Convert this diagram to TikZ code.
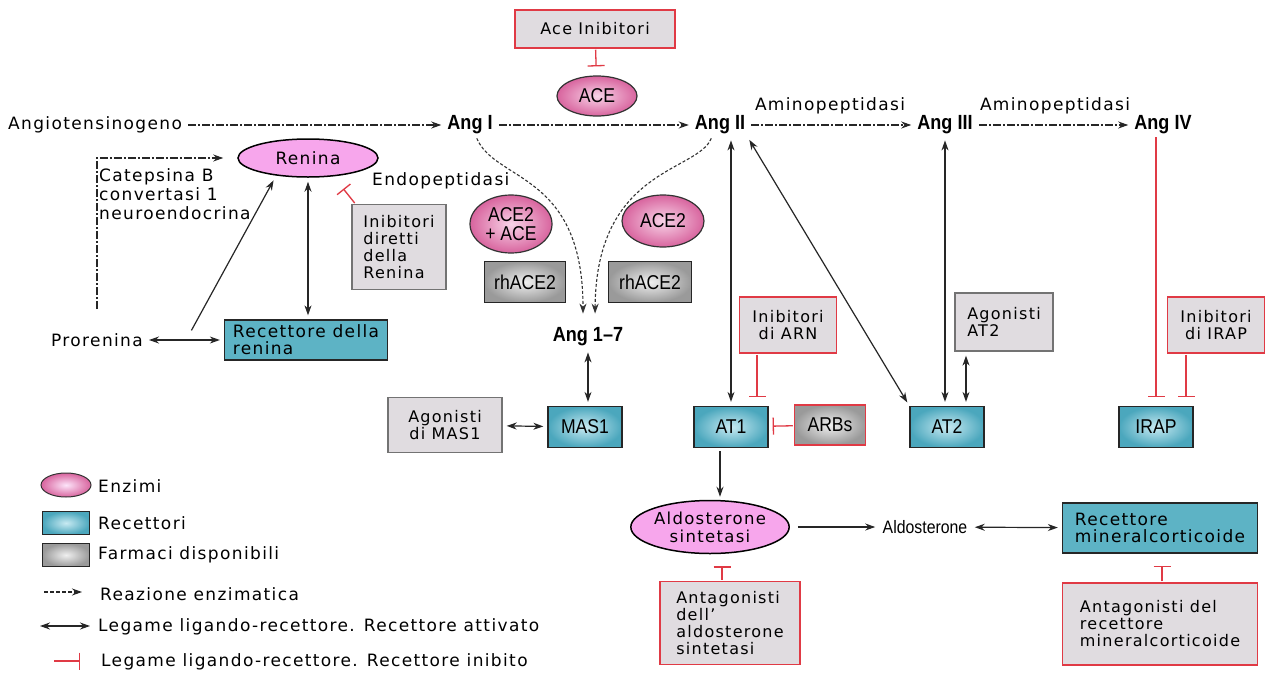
\documentclass[tikz,border=0pt]{standalone}
\usepackage{fontspec}
\setmainfont[LetterSpace=8]{DejaVu Sans}
\newfontfamily\narrowfont[FakeStretch=0.88]{Liberation Sans}
\usetikzlibrary{arrows.meta,shapes.geometric,positioning}
\definecolor{reninpink}{HTML}{F7A6EC}
\definecolor{acedark}{HTML}{D8649E}
\definecolor{acelight}{HTML}{F8D4E8}
\definecolor{recteal}{HTML}{5DB3C5}
\definecolor{recdark}{HTML}{4BA7BD}
\definecolor{reclight}{HTML}{C8EAF2}
\definecolor{druggray}{HTML}{9A9A9A}
\definecolor{boxgray}{HTML}{E0DCE0}
\definecolor{inhred}{HTML}{E03A45}
\tikzstyle{lbl}=[font=\fontsize{17}{19}\selectfont, inner sep=2pt]
\tikzstyle{ang}=[font=\narrowfont\bfseries\fontsize{20.5}{22}\selectfont, inner sep=2pt]
\tikzstyle{enzyme}=[ellipse, draw=black!80, line width=1.2pt, inner color=acelight, outer color=acedark, inner sep=0pt, align=center, font=\narrowfont\fontsize{20}{19}\selectfont]
\tikzstyle{enzflat}=[ellipse, draw=black, line width=1.5pt, fill=reninpink, inner sep=0pt, align=center, font=\fontsize{16.5}{18}\selectfont]
\tikzstyle{recbox}=[rectangle, draw=black!85, line width=1.3pt, inner color=reclight, outer color=recdark, minimum width=74pt, minimum height=41pt, font=\narrowfont\fontsize{20}{19}\selectfont]
\tikzstyle{recflat}=[rectangle, draw=black!85, line width=1.3pt, fill=recteal, align=left, inner sep=4pt, font=\fontsize{17}{17}\selectfont]
\tikzstyle{drugbox}=[rectangle, draw=black!85, line width=1.3pt, inner color=white!94!black, outer color=druggray, font=\narrowfont\fontsize{20}{19}\selectfont]
\tikzstyle{inhbox}=[rectangle, draw=inhred, line width=1.5pt, fill=boxgray, align=left, font=\fontsize{16}{17}\selectfont]
\tikzstyle{agobox}=[rectangle, draw=black!55, line width=1.3pt, fill=boxgray, align=left, font=\fontsize{16}{17}\selectfont]
\tikzstyle{conv}=[-{Stealth[length=10pt,width=7pt]}, line width=1.2pt, black!85, shorten <=3pt, shorten >=3pt]
\tikzstyle{bind}=[{Stealth[length=10pt,width=7pt]}-{Stealth[length=10pt,width=7pt]}, line width=1.2pt, black!85, shorten <=4pt, shorten >=4pt]
\tikzstyle{enzarrow}=[-{Stealth[length=10pt,width=7pt]}, line width=1.1pt, black!85, dash pattern=on 8pt off 2pt on 2pt off 2pt, shorten <=4pt, shorten >=4pt]
\tikzstyle{enzcurve}=[-{Stealth[length=10pt,width=7pt]}, line width=1.1pt, black!80, dash pattern=on 3pt off 2pt, shorten <=2pt, shorten >=12pt]
\tikzstyle{inhib}=[-{Bar[width=17pt]}, line width=1.3pt, inhred, shorten <=1pt, shorten >=9pt]

\begin{document}
\begin{tikzpicture}[x=1pt,y=-1pt]
\useasboundingbox[fill=white] (0,0) rectangle (1267,675);

\node[inhbox, minimum width=160pt, minimum height=38pt] (AceInh) at (595,29) {Ace Inibitori};
\node[enzyme, minimum width=80pt, minimum height=40pt] (ACE) at (597,96) {ACE};
\node[lbl, anchor=west] (Agen) at (6,125) {Angiotensinogeno};
\node[ang] (AngI) at (470,125) {Ang I};
\node[ang] (AngII) at (720,125) {Ang II};
\node[ang] (AngIII) at (945,125) {Ang III};
\node[ang] (AngIV) at (1163,125) {Ang IV};
\node[lbl] (Amino1) at (830,106) {Aminopeptidasi};
\node[lbl] (Amino2) at (1055,106) {Aminopeptidasi};

\node[enzflat, minimum width=140pt, minimum height=38pt, font=\fontsize{17}{18}\selectfont] (Renina) at (308,158) {Renina};
\node[lbl, anchor=west] (Endo) at (370,181) {Endopeptidasi};
\node[lbl, anchor=north west, align=left] (Catep) at (97,166) {Catepsina B\\convertasi 1\\neuroendocrina};
\node[lbl] (Pro) at (97,340) {Prorenina};
\coordinate (ProA) at (190,333);
\node[recflat, minimum width=163pt, minimum height=40pt] (RecRen) at (306,340) {Recettore della\\renina};
\node[agobox, minimum width=94pt, minimum height=85pt] (RenInh) at (399,247) {Inibitori\\diretti\\della\\Renina};

\node[enzyme, minimum width=82pt, minimum height=58pt] (ACEtwoA) at (511,224) {ACE2\\+ ACE};
\node[enzyme, minimum width=82pt, minimum height=52pt] (ACEtwoB) at (663,221) {ACE2};
\node[drugbox, minimum width=81pt, minimum height=41pt] (rhA) at (525,282) {rhACE2};
\node[drugbox, minimum width=83pt, minimum height=41pt] (rhB) at (650,282) {rhACE2};
\node[ang] (Ang17) at (588,337) {Ang 1–7};

\node[recbox] (MAS1) at (585,427) {MAS1};
\node[agobox, minimum width=114pt, minimum height=55pt, align=center] (MASago) at (445,425) {Agonisti\\di MAS1};
\node[recbox] (AT1) at (731,427) {AT1};
\node[inhbox, minimum width=97pt, minimum height=56pt, align=center] (ARNinh) at (788,325) {Inibitori\\di ARN};
\node[drugbox, draw=inhred, line width=1.5pt, minimum width=71pt, minimum height=40pt] (ARBs) at (830,425) {ARBs};
\node[recbox] (AT2) at (947,427) {AT2};
\node[agobox, minimum width=98pt, minimum height=58pt] (AT2ago) at (1004,322) {Agonisti\\AT2};
\node[inhbox, minimum width=97pt, minimum height=56pt, align=center] (IRAPinh) at (1216,325) {Inibitori\\di IRAP};
\node[recbox] (IRAP) at (1156,427) {IRAP};

\node[enzflat, minimum width=141pt, minimum height=53pt] (AldoS) at (710,527) {Aldosterone\\sintetasi};
\node[font=\narrowfont\fontsize{18}{17}\selectfont] (Aldo) at (925,527) {Aldosterone};
\node[recflat, minimum width=195pt, minimum height=50pt] (MR) at (1160,528) {Recettore\\mineralcorticoide};
\node[inhbox, minimum width=140pt, minimum height=83pt] (AldoInh) at (730,623) {Antagonisti\\dell'\\aldosterone\\sintetasi};
\node[inhbox, minimum width=195pt, minimum height=82pt] (MRinh) at (1160,624) {Antagonisti del\\recettore\\mineralcorticoide};

\node[enzyme, minimum width=50pt, minimum height=24pt, line width=1pt, inner color=reninpink!30, outer color=acedark] (LegEnz) at (66,485) {};
\node[lbl, anchor=west] (LegEnzT) at (96,486) {Enzimi};
\node[recbox, minimum width=47pt, minimum height=23pt] (LegRec) at (66,523) {};
\node[lbl, anchor=west] (LegRecT) at (96,523) {Recettori};
\node[drugbox, minimum width=47pt, minimum height=23pt] (LegDrug) at (66,555) {};
\node[lbl, anchor=west] (LegDrugT) at (96,555) {Farmaci disponibili};
\coordinate (LegA) at (44,592);
\node[lbl, anchor=west] (LegEnzArr) at (98,594) {Reazione enzimatica};
\coordinate (LegB) at (40,626);
\node[lbl, anchor=west] (LegBind) at (96,627) {Legame ligando-recettore. Recettore attivato};
\coordinate (LegC) at (54,661);
\node[lbl, anchor=west] (LegInh) at (99,662) {Legame ligando-recettore. Recettore inibito};

\draw[enzarrow] (Agen) -- (AngI);
\draw[enzarrow] (AngI) -- (AngII);
\draw[enzarrow] (AngII) -- (AngIII);
\draw[enzarrow] (AngIII) -- (AngIV);
\draw[inhib] (AceInh) -- (ACE);
\draw[enzarrow, shorten <=22pt, shorten >=14pt] (Pro.north) |- (Renina.west);
\draw[conv] (ProA) -- ([xshift=-33pt]Renina.south);
\draw[bind] (Pro) -- (RecRen);
\draw[bind] (Renina.south) -- (Renina.south |- RecRen.north);
\draw[inhib, shorten >=0pt] ([xshift=4pt]RenInh.north west) -- ++(-12,-15);
\draw[enzcurve] ([xshift=6pt]AngI.south) .. controls (495,182) and (583,172) .. ([xshift=-5pt]Ang17.north);
\draw[enzcurve] ([xshift=-8pt]AngII.south) .. controls (698,172) and (596,168) .. ([xshift=7pt]Ang17.north);
\draw[bind] (Ang17.south) -- (Ang17.south |- MAS1.north);
\draw[bind] (MASago) -- (MAS1);
\draw[bind] (AT1.north |- AngII.south) -- (AT1.north);
\draw[bind] (AngII.south east) -- (AT2.north west);
\draw[bind] (AngIII.south) -- (AngIII.south |- AT2.north);
\draw[bind] ([xshift=-38pt]AT2ago.south) -- ([xshift=-38pt]AT2ago.south |- AT2.north);
\draw[inhib] ([xshift=-31pt]ARNinh.south) -- ([xshift=-31pt]ARNinh.south |- AT1.north);
\draw[inhib, shorten >=4pt] (ARBs) -- (AT1);
\draw[conv] ([xshift=-11pt]AT1.south) -- ([xshift=-11pt]AT1.south |- AldoS.north);
\draw[inhib] ([xshift=-7pt]AngIV.south) -- ([xshift=-7pt]AngIV.south |- IRAP.north);
\draw[inhib] ([xshift=-30pt]IRAPinh.south) -- ([xshift=-30pt]IRAPinh.south |- IRAP.north);
\draw[conv, shorten <=8pt, shorten >=4pt] (AldoS) -- (Aldo);
\draw[bind] (Aldo) -- (MR);
\draw[inhib, shorten >=12pt] ([xshift=-8pt]AldoInh.north) -- ([xshift=-8pt]AldoInh.north |- AldoS.south);
\draw[inhib, shorten >=12pt] ([xshift=2pt]MRinh.north) -- ([xshift=2pt]MRinh.north |- MR.south);

\draw[enzarrow, dash pattern=on 4pt off 2pt, shorten <=0pt, shorten >=0pt] (LegA) -- ++(38,0);
\draw[bind, shorten <=0pt, shorten >=0pt] (LegB) -- ++(50,0);
\draw[inhib, shorten <=0pt, shorten >=0pt] (LegC) -- ++(26,0);
\end{tikzpicture}
\end{document}
